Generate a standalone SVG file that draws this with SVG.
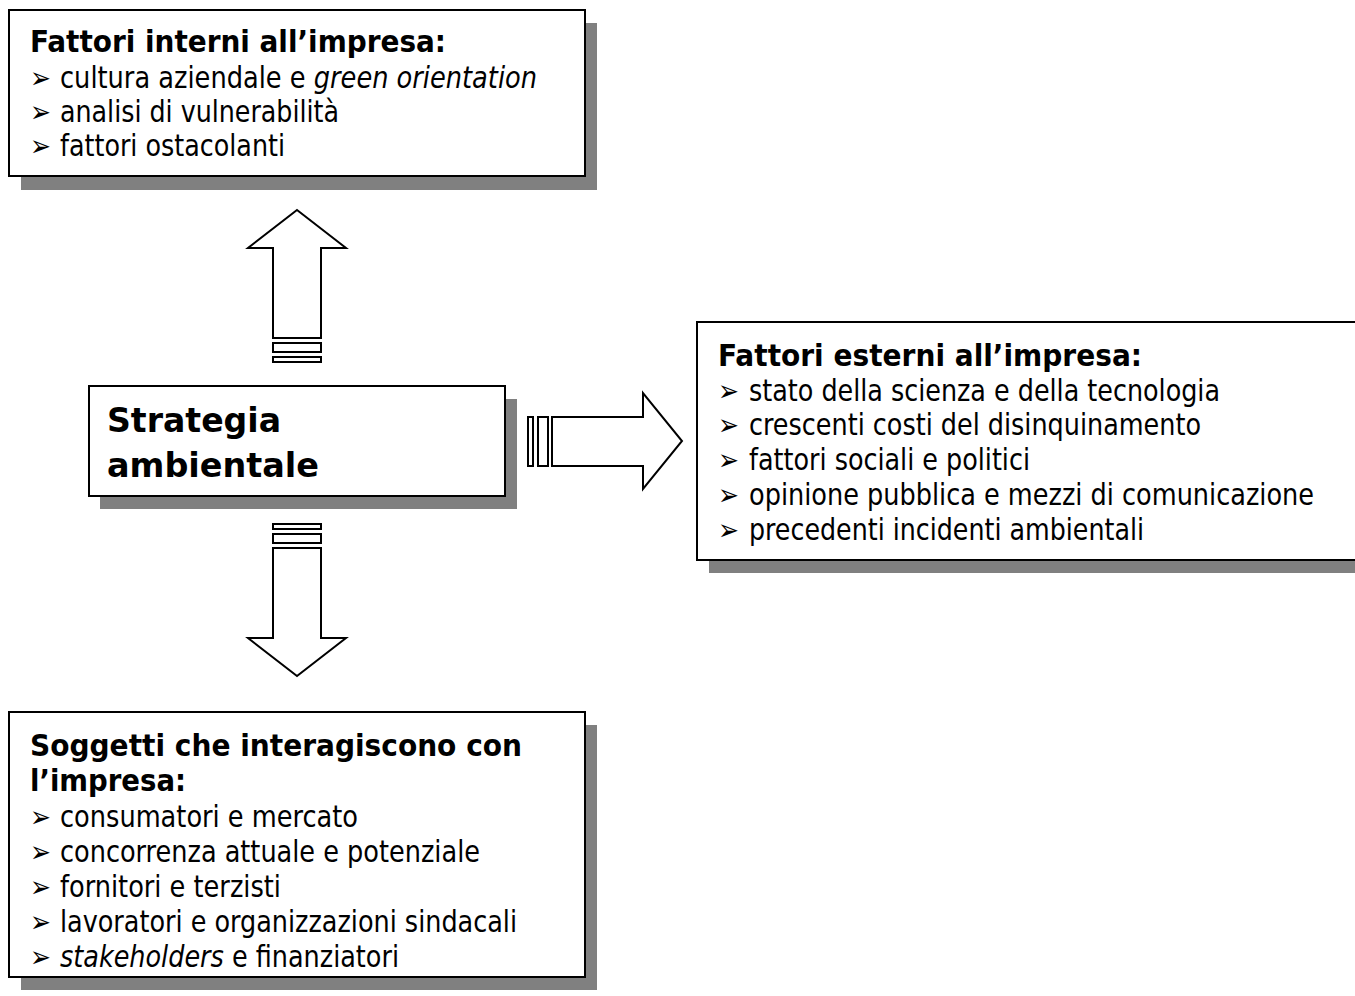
<svg xmlns="http://www.w3.org/2000/svg" width="1355" height="996" viewBox="0 0 1355 996">
<style>
.box{fill:#fff;stroke:#000;stroke-width:2}
.shadow{fill:#808080}
.arr{fill:#fff;stroke:#000;stroke-width:2;stroke-linejoin:miter}
text{font-family:"DejaVu Sans Condensed","DejaVu Sans",sans-serif;font-stretch:condensed;fill:#000}
.t{font-size:30px;font-weight:bold}
.b{font-size:29.5px}
.big{font-size:34px;font-weight:bold}
.i{font-style:italic}
.bul{font-size:29.5px;font-weight:bold}
</style>
<rect width="1355" height="996" fill="#fff"/>
<g id="connectors">
<g id="arrow-up">
<polygon class="arr" points="297,210 346,248 321,248 321,338 273,338 273,248 248,248"/>
<rect class="arr" x="273" y="343" width="48" height="9"/>
<rect class="arr" x="273" y="357" width="48" height="5"/>
</g>
<g id="arrow-down">
<rect class="arr" x="273" y="524" width="48" height="5"/>
<rect class="arr" x="273" y="534" width="48" height="9"/>
<polygon class="arr" points="273,548 321,548 321,638 346,638 297,676 248,638 273,638"/>
</g>
<g id="arrow-right">
<rect class="arr" x="528" y="417" width="5" height="49"/>
<rect class="arr" x="538" y="417" width="10" height="49"/>
<polygon class="arr" points="552,417 643,417 643,393 682,441 643,489 643,466 552,466"/>
</g>
</g>
<g id="node-interni">
<rect class="shadow" x="21" y="23" width="576" height="167"/>
<rect class="box" x="9" y="10" width="576" height="166"/>
<text class="t" x="30" y="52" textLength="416" lengthAdjust="spacingAndGlyphs">Fattori interni all’impresa:</text>
<text class="bul" x="30" y="88" textLength="21" lengthAdjust="spacingAndGlyphs">➢</text>
<text class="b" x="60" y="88" textLength="477" lengthAdjust="spacingAndGlyphs">cultura aziendale e <tspan class="i">green orientation</tspan></text>
<text class="bul" x="30" y="122" textLength="21" lengthAdjust="spacingAndGlyphs">➢</text>
<text class="b" x="60" y="122" textLength="279" lengthAdjust="spacingAndGlyphs">analisi di vulnerabilità</text>
<text class="bul" x="30" y="156" textLength="21" lengthAdjust="spacingAndGlyphs">➢</text>
<text class="b" x="60" y="156" textLength="225" lengthAdjust="spacingAndGlyphs">fattori ostacolanti</text>
</g>
<g id="node-strategia">
<rect class="shadow" x="100" y="399" width="417" height="110"/>
<rect class="box" x="89" y="386" width="416" height="110"/>
<text class="big" x="107" y="432" textLength="174" lengthAdjust="spacingAndGlyphs">Strategia</text>
<text class="big" x="107" y="477" textLength="212" lengthAdjust="spacingAndGlyphs">ambientale</text>
</g>
<g id="node-esterni">
<rect class="shadow" x="709" y="335" width="670" height="238"/>
<rect class="box" x="697" y="322" width="670" height="238"/>
<text class="t" x="718" y="366" textLength="424" lengthAdjust="spacingAndGlyphs">Fattori esterni all’impresa:</text>
<text class="bul" x="718" y="401" textLength="21" lengthAdjust="spacingAndGlyphs">➢</text>
<text class="b" x="749" y="401" textLength="471" lengthAdjust="spacingAndGlyphs">stato della scienza e della tecnologia</text>
<text class="bul" x="718" y="435" textLength="21" lengthAdjust="spacingAndGlyphs">➢</text>
<text class="b" x="749" y="435" textLength="452" lengthAdjust="spacingAndGlyphs">crescenti costi del disinquinamento</text>
<text class="bul" x="718" y="470" textLength="21" lengthAdjust="spacingAndGlyphs">➢</text>
<text class="b" x="749" y="470" textLength="281" lengthAdjust="spacingAndGlyphs">fattori sociali e politici</text>
<text class="bul" x="718" y="505" textLength="21" lengthAdjust="spacingAndGlyphs">➢</text>
<text class="b" x="749" y="505" textLength="565" lengthAdjust="spacingAndGlyphs">opinione pubblica e mezzi di comunicazione</text>
<text class="bul" x="718" y="540" textLength="21" lengthAdjust="spacingAndGlyphs">➢</text>
<text class="b" x="749" y="540" textLength="395" lengthAdjust="spacingAndGlyphs">precedenti incidenti ambientali</text>
</g>
<g id="node-soggetti">
<rect class="shadow" x="21" y="725" width="576" height="265"/>
<rect class="box" x="9" y="712" width="576" height="265"/>
<text class="t" x="30" y="756" textLength="492" lengthAdjust="spacingAndGlyphs">Soggetti che interagiscono con</text>
<text class="t" x="30" y="791" textLength="156" lengthAdjust="spacingAndGlyphs">l’impresa:</text>
<text class="bul" x="30" y="827" textLength="21" lengthAdjust="spacingAndGlyphs">➢</text>
<text class="b" x="60" y="827" textLength="298" lengthAdjust="spacingAndGlyphs">consumatori e mercato</text>
<text class="bul" x="30" y="862" textLength="21" lengthAdjust="spacingAndGlyphs">➢</text>
<text class="b" x="60" y="862" textLength="420" lengthAdjust="spacingAndGlyphs">concorrenza attuale e potenziale</text>
<text class="bul" x="30" y="897" textLength="21" lengthAdjust="spacingAndGlyphs">➢</text>
<text class="b" x="60" y="897" textLength="221" lengthAdjust="spacingAndGlyphs">fornitori e terzisti</text>
<text class="bul" x="30" y="932" textLength="21" lengthAdjust="spacingAndGlyphs">➢</text>
<text class="b" x="60" y="932" textLength="457" lengthAdjust="spacingAndGlyphs">lavoratori e organizzazioni sindacali</text>
<text class="bul" x="30" y="967" textLength="21" lengthAdjust="spacingAndGlyphs">➢</text>
<text class="b" x="60" y="967" textLength="339" lengthAdjust="spacingAndGlyphs"><tspan class="i">stakeholders</tspan> e finanziatori</text>
</g>
</svg>
